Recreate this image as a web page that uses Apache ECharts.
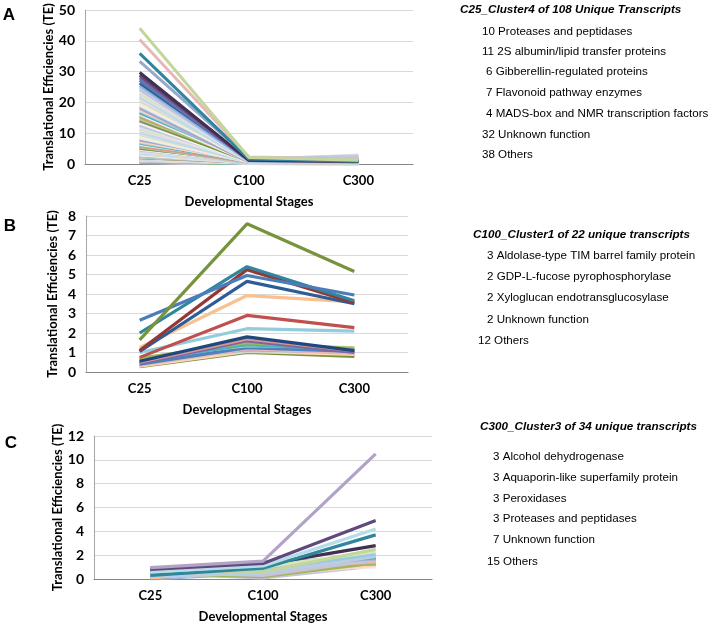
<!DOCTYPE html>
<html><head><meta charset="utf-8">
<script src="https://cdn.jsdelivr.net/npm/echarts@6/dist/echarts.min.js"></script>
<style>html,body{margin:0;padding:0;background:#fff}#c{width:714px;height:628px}</style>
</head><body><div id="c"></div>
<script>
// ---------- data ----------
const stages = ['C25', 'C100', 'C300'];
const yMaxA = 50, yStepA = 10;
const yMaxB = 8, yStepB = 1;
const yMaxC = 12, yStepC = 2;

// Panel A: 108 transcripts
const a25 = [
  44.1, 40.4, 35.9, 33.3, 29.7, 28.8, 28.0, 27.2, 26.3, 25.6,
  24.9, 24.2, 23.8, 23.1, 22.6, 22.3, 21.7, 21.2, 20.5, 20.1,
  19.6, 19.0, 18.7, 18.1, 17.5, 17.2, 16.6, 16.1, 15.7, 15.3,
  14.6, 14.2, 13.9, 13.3, 12.8, 12.5, 12.0, 11.4, 11.1, 10.7,
  10.2, 9.9, 9.6, 9.1, 8.7, 8.4, 8.0, 7.8, 7.3, 7.0,
  6.7, 6.3, 6.0, 5.8, 5.5, 5.2, 5.0, 4.8, 4.7, 4.5,
  4.3, 4.1, 3.9, 3.8, 3.6, 3.5, 3.3, 3.1, 3.0, 2.9,
  2.8, 2.7, 2.6, 2.5, 2.4, 2.3, 2.3, 2.2, 2.1, 2.0,
  2.0, 1.9, 1.8, 1.8, 1.7, 1.6, 1.6, 1.5, 1.5, 1.4,
  1.3, 1.3, 1.2, 1.2, 1.1, 1.1, 1.0, 1.0, 0.9, 0.9,
  0.8, 0.8, 0.7, 0.7, 0.6, 0.6, 0.5, 0.5
];
const a100 = [
  2.1, 2.3, 1.6, 1.9, 1.2, 1.4, 1.1, 1.3, 1.5, 1.0,
  1.7, 1.2, 0.9, 1.4, 1.8, 1.1, 0.8, 1.3, 1.6, 1.0,
  0.9, 1.5, 1.2, 0.7, 1.9, 1.1, 1.4, 0.8, 1.3, 1.0,
  1.6, 0.9, 1.2, 0.6, 1.4, 1.1, 0.8, 1.7, 1.0, 1.3,
  0.7, 1.2, 0.9, 1.5, 1.1, 0.6, 1.0, 1.3, 0.8, 1.2,
  0.9, 1.4, 0.7, 1.1, 0.5, 1.0, 1.2, 0.8, 0.6, 1.1,
  0.9, 0.7, 1.3, 0.5, 1.0, 0.8, 0.6, 1.1, 0.9, 0.4,
  0.7, 1.0, 0.5, 0.8, 0.6, 0.9, 0.4, 0.7, 0.5, 0.8,
  0.6, 0.4, 0.7, 0.5, 0.3, 0.6, 0.4, 0.5, 0.3, 0.6,
  0.4, 0.5, 0.3, 0.4, 0.2, 0.5, 0.3, 0.4, 0.2, 0.3,
  0.4, 0.2, 0.3, 0.2, 0.3, 0.1, 0.2, 0.2
];
const a300 = [
  1.2, 1.6, 0.9, 1.4, 0.8, 1.1, 0.7, 1.0, 1.3, 0.6,
  2.6, 0.9, 0.5, 1.2, 1.5, 0.8, 0.6, 2.9, 1.1, 0.7,
  0.6, 1.0, 1.3, 0.5, 1.7, 0.9, 2.2, 0.6, 1.0, 0.8,
  1.1, 0.7, 0.9, 0.4, 1.2, 0.8, 0.5, 1.4, 0.7, 1.0,
  0.5, 0.9, 0.6, 1.1, 0.8, 0.4, 0.7, 1.0, 0.5, 0.9,
  0.6, 1.1, 0.5, 0.8, 0.3, 0.7, 0.9, 0.6, 0.4, 0.8,
  0.7, 0.5, 1.0, 0.3, 0.8, 0.6, 0.4, 0.9, 0.7, 0.3,
  0.5, 0.8, 0.4, 0.6, 0.4, 0.7, 0.3, 0.5, 0.4, 0.6,
  0.5, 0.3, 0.6, 0.4, 0.2, 0.5, 0.3, 0.4, 0.2, 0.5,
  0.3, 0.4, 0.2, 0.3, 0.2, 0.4, 0.2, 0.3, 0.1, 0.2,
  0.3, 0.2, 0.2, 0.1, 0.2, 0.1, 0.2, 0.1
];

// Panel B: 22 transcripts
const b25 = [1.65, 2.65, 2.0, 1.1, 1.05, 1.25, 0.75, 1.0, 0.55, 0.5, 0.45, 0.7, 0.6, 0.72, 0.4, 0.35, 0.55, 0.65, 0.3, 0.28, 0.5, 0.4];
const b100 = [7.6, 4.95, 5.4, 5.25, 4.65, 3.92, 2.9, 2.22, 1.8, 1.7, 1.6, 1.5, 1.4, 1.35, 1.25, 1.2, 1.15, 1.1, 1.05, 1.0, 1.3, 1.05];
const b300 = [5.15, 3.95, 3.65, 3.55, 3.5, 3.6, 2.28, 2.1, 1.1, 1.1, 1.0, 1.2, 1.15, 1.25, 1.05, 0.95, 1.0, 1.05, 0.9, 0.8, 1.1, 0.85];

// Panel C: 34 transcripts
const c25 = [0.95, 0.8, 0.6, 0.3, 0.7, 0.5, 0.9, 0.4, 0.2, 0.85,
  0.65, 0.55, 0.1, 0.35, 0.75, 0.45, 0.15, 0.9, 0.25, 0.6,
  0.05, 0.5, 0.7, 0.3, 0.85, 0.4, 0.2, 0.65, 0.1, 0.55,
  0.8, 0.35, 0.45, 0.0];
const c100 = [1.5, 1.3, 1.1, 0.9, 1.2, 0.6, 1.0, 0.8, 0.5, 1.4,
  1.1, 0.3, 0.7, 0.9, 1.2, 0.2, 0.6, 1.3, 0.4, 1.0,
  0.8, 0.5, 1.1, 0.7, 1.2, 0.3, 0.9, 1.0, 0.6, 0.4,
  1.3, 0.8, 0.1, 0.5];
const c300 = [10.5, 4.9, 4.2, 3.7, 2.8, 2.5, 2.3, 2.1, 1.9, 1.8,
  1.7, 1.6, 1.5, 1.45, 1.4, 1.35, 1.3, 1.25, 1.2, 1.6,
  1.4, 1.3, 1.1, 1.5, 1.2, 1.15, 1.8, 1.0, 1.35, 1.25,
  2.0, 1.5, 1.1, 1.3];

// Texts
const panelLabels = ['A', 'B', 'C'];
const xAxisTitle = 'Developmental Stages';
const yAxisTitle = 'Translational Efficiencies (TE)';
const titleA = 'C25_Cluster4 of 108 Unique Transcripts';
const itemsA = ['10 Proteases and peptidases', '11 2S albumin/lipid transfer proteins', '6 Gibberellin-regulated proteins', '7 Flavonoid pathway enzymes', '4 MADS-box and NMR transcription factors', '32 Unknown function', '38 Others'];
const titleB = 'C100_Cluster1 of 22 unique transcripts';
const itemsB = ['3 Aldolase-type TIM barrel family protein', '2 GDP-L-fucose pyrophosphorylase', '2 Xyloglucan endotransglucosylase', '2 Unknown function', '12 Others'];
const titleC = 'C300_Cluster3 of 34 unique transcripts';
const itemsC = ['3 Alcohol dehydrogenase', '3 Aquaporin-like superfamily protein', '3 Peroxidases', '3 Proteases and peptidases', '7 Unknown function', '15 Others'];

// ---------- styles ----------
const aTop = ['#C3D69B', '#E6B9B8', '#31859C', '#95A9CE', '#403152', '#5F497A', '#8064A2', '#4F81BD', '#376092', '#8EB4E3'];
const aCycle = ['#B9CDE5', '#CCC1DA', '#DCE6F2', '#D7E4BD', '#F2DCDB', '#C6D9F1', '#B7DEE8', '#E6E0EC', '#DDD9C3', '#EBF1DE',
  '#FDEADA', '#DBEEF4', '#95B3D7', '#B3A2C7', '#FCD5B5', '#93CDDD', '#4BACC6', '#EEECE1', '#D99694', '#9BBB59',
  '#C4BD97', '#77933C', '#A6A6A6', '#F2F2F2'];
const bColors = ['#77933C', '#4A7EBB', '#31859C', '#953735', '#2C5D98', '#FAC090', '#C0504D', '#93CDDD', '#1F497D', '#D99694', '#8064A2',
  '#9BBB59', '#4BACC6', '#C3D69B', '#4F81BD', '#E6B9B8', '#B3A2C7', '#B9CDE5', '#FCD5B5', '#77933C', '#93CDDD', '#D99694'];
const cColors = ['#B3A2C7', '#604A7B', '#B7DEE8', '#31859C', '#403152', '#C3D69B', '#D7E4BD', '#93CDDD', '#B9CDE5', '#4BACC6',
  '#95B3D7', '#CCC1DA', '#FAC090', '#F79646', '#E6B9B8', '#9BBB59', '#8EB4E3', '#D99694', '#FCD5B5', '#8064A2',
  '#4F81BD', '#C0504D', '#DCE6F2', '#E6E0EC', '#77933C', '#F2DCDB', '#B3A2C7', '#FDEADA', '#DBEEF4', '#C6D9F1',
  '#EBF1DE', '#FAC090', '#CCC1DA', '#8EB4E3'];

const axisFont = 'Lato';
const listFont = '"Liberation Sans", Arial, sans-serif';

function series(v25, v100, v300, colorOf, gi, w) {
  const out = [];
  for (let i = 0; i < v25.length; i++) {
    const col = colorOf(i);
    out.push({
      type: 'line', xAxisIndex: gi, yAxisIndex: gi,
      data: [v25[i], v100[i], v300[i]],
      symbol: 'none', silent: true, animation: false,
      lineStyle: { width: w, color: col }, itemStyle: { color: col }
    });
  }
  return out;
}

const grids = [
  { left: 85, top: 10, width: 328, height: 154 },
  { left: 86, top: 216, width: 322, height: 156 },
  { left: 94, top: 436, width: 338, height: 143 }
];
const yDefs = [[yMaxA, yStepA, 30], [yMaxB, yStepB, 27], [yMaxC, yStepC, 30]];

const xAxes = grids.map((g, i) => ({
  type: 'category', gridIndex: i, data: stages, boundaryGap: true,
  axisLine: { show: true, lineStyle: { color: '#868686', width: 1.2 } },
  axisTick: { show: false },
  axisLabel: { margin: 10, color: '#000', fontFamily: axisFont, fontWeight: 'bold', fontSize: 13 },
  name: xAxisTitle, nameLocation: 'middle', nameGap: 31,
  nameTextStyle: { color: '#000', fontFamily: axisFont, fontWeight: 'bold', fontSize: 13 }
}));
const yAxes = grids.map((g, i) => ({
  type: 'value', gridIndex: i, min: 0, max: yDefs[i][0], interval: yDefs[i][1],
  axisLine: { show: true, lineStyle: { color: '#A6A6A6', width: 1 } },
  axisTick: { show: false },
  splitLine: { show: true, lineStyle: { color: '#D9D9D9', width: 1 } },
  axisLabel: { margin: 10, color: '#000', fontFamily: axisFont, fontWeight: 'bold', fontSize: 14 },
  name: yAxisTitle, nameLocation: 'middle', nameGap: yDefs[i][2], nameRotate: 90,
  nameTextStyle: { color: '#000', fontFamily: axisFont, fontWeight: 'bold', fontSize: 13 }
}));

const allSeries = []
  .concat(series(a25, a100, a300, i => (i < aTop.length ? aTop[i] : aCycle[(i - aTop.length) % aCycle.length]), 0, 3))
  .concat(series(b25, b100, b300, i => bColors[i % bColors.length], 1, 3.2))
  .concat(series(c25, c100, c300, i => cColors[i % cColors.length], 2, 3.2));
// draw the tallest lines last so they sit on top
allSeries.reverse();

const graphic = [];
function txt(x, y, s, opt) {
  graphic.push({ type: 'text', x: x, y: y, silent: true,
    style: Object.assign({ text: s, fill: '#000', verticalAlign: 'middle', align: 'left' }, opt) });
}
const panelPos = [[9, 15], [10, 226], [11, 443]];
panelLabels.forEach((l, i) => txt(panelPos[i][0], panelPos[i][1], l,
  { fontFamily: listFont, fontWeight: 'bold', fontSize: 17, align: 'center' }));

const titleStyle = { fontFamily: listFont, fontWeight: 'bold', fontStyle: 'italic', fontSize: 11.7 };
const itemStyle = { fontFamily: listFont, fontSize: 11.6 };
txt(460, 10, titleA, titleStyle);
const axA = [482, 482, 486, 486, 486, 482, 482], ayA = [32, 52, 72, 93, 114, 135, 155];
itemsA.forEach((s, i) => txt(axA[i], ayA[i], s, itemStyle));
txt(473, 235, titleB, titleStyle);
const axB = [487, 487, 487, 487, 478], ayB = [256, 277, 298, 320, 341];
itemsB.forEach((s, i) => txt(axB[i], ayB[i], s, itemStyle));
txt(480, 427, titleC, titleStyle);
const axC = [493, 493, 493, 493, 493, 487], ayC = [457, 478, 499, 519, 540, 562];
itemsC.forEach((s, i) => txt(axC[i], ayC[i], s, itemStyle));

const chart = echarts.init(document.getElementById('c'), null, { renderer: 'canvas' });
chart.setOption({
  animation: false,
  backgroundColor: '#fff',
  grid: grids,
  xAxis: xAxes,
  yAxis: yAxes,
  series: allSeries,
  graphic: graphic
});
</script>
</body></html>
